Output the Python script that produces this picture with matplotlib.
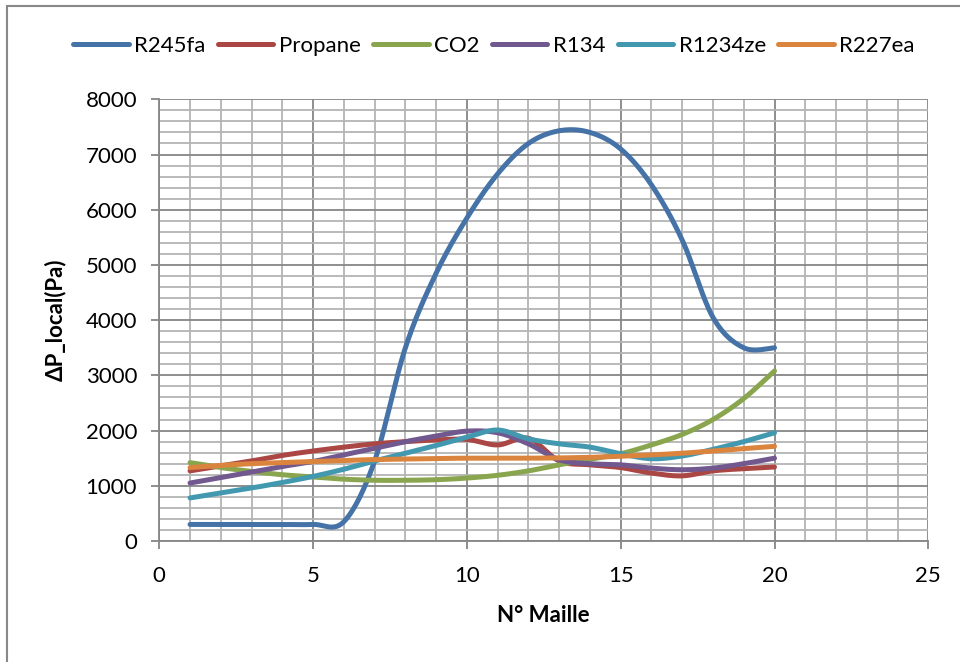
import numpy as np
import matplotlib
matplotlib.use("Agg")
import matplotlib.pyplot as plt
from matplotlib.patches import Rectangle
from matplotlib.ticker import MultipleLocator

plt.rcParams['font.family'] = ['Lato', 'DejaVu Sans']

# N° Maille 1..20
maille = list(range(1, 21))

r245fa = [300, 300, 300, 300, 300, 350, 1450, 3500, 4850, 5850,
          6650, 7200, 7430, 7400, 7100, 6450, 5450, 4050, 3500, 3500]
propane = [1270, 1360, 1450, 1550, 1630, 1700, 1760, 1800, 1830, 1840,
           1740, 1860, 1450, 1380, 1330, 1230, 1180, 1270, 1310, 1340]
co2 = [1420, 1330, 1260, 1200, 1160, 1120, 1100, 1100, 1110, 1140,
       1190, 1270, 1380, 1480, 1580, 1740, 1930, 2200, 2580, 3080]
r134 = [1050, 1150, 1250, 1350, 1440, 1560, 1680, 1800, 1900, 1990,
        1960, 1760, 1470, 1400, 1380, 1320, 1290, 1320, 1400, 1500]
r1234ze = [780, 870, 960, 1060, 1170, 1300, 1450, 1590, 1730, 1880,
           2010, 1850, 1760, 1700, 1580, 1490, 1540, 1660, 1800, 1960]
r227ea = [1330, 1370, 1400, 1420, 1440, 1460, 1475, 1485, 1495, 1500,
          1500, 1500, 1505, 1515, 1535, 1560, 1590, 1630, 1670, 1715]

series = [('R245fa', r245fa, '#4572A7'),
          ('Propane', propane, '#AA4643'),
          ('CO2', co2, '#89A54E'),
          ('R134', r134, '#71588F'),
          ('R1234ze', r1234ze, '#4198AF'),
          ('R227ea', r227ea, '#DB843D')]


def smooth(x, y, n=30):
    # Catmull-Rom through the points, like Excel's "smoothed line"
    x = np.asarray(x, float)
    y = np.asarray(y, float)
    px = np.concatenate([[x[0]], x, [x[-1]]])
    py = np.concatenate([[y[0]], y, [y[-1]]])
    xs, ys = [], []
    t = np.linspace(0, 1, n, endpoint=False)
    for i in range(1, len(px) - 2):
        for p, out in ((px, xs), (py, ys)):
            p0, p1, p2, p3 = p[i - 1], p[i], p[i + 1], p[i + 2]
            m1 = (p2 - p0) / 2
            m2 = (p3 - p1) / 2
            h00 = 2 * t**3 - 3 * t**2 + 1
            h10 = t**3 - 2 * t**2 + t
            h01 = -2 * t**3 + 3 * t**2
            h11 = t**3 - t**2
            out.append(h00 * p1 + h10 * m1 + h01 * p2 + h11 * m2)
    xs = np.concatenate(xs + [[x[-1]]])
    ys = np.concatenate(ys + [[y[-1]]])
    return xs, ys


W, H = 960, 662
fig = plt.figure(figsize=(W / 100, H / 100), dpi=100)

# outer chart frame (right and bottom edges fall outside the picture)
fig.patches.append(Rectangle((7 / W, -0.1), 1.2, (H - 6) / H + 0.1, transform=fig.transFigure,
                             fill=False, edgecolor='#888888', linewidth=1.5))

x0, x1 = 159.3, 928.3
y0, y1 = 541, 99.3
ax = fig.add_axes([x0 / W, (H - y0) / H, (x1 - x0) / W, (y0 - y1) / H])

for name, vals, col in series:
    sx, sy = smooth(maille, vals)
    ax.plot(sx, sy, color=col, lw=3.6, solid_capstyle='round', label=name, zorder=3)

ax.set_xlim(0, 25)
ax.set_ylim(0, 8000)
ax.xaxis.set_major_locator(MultipleLocator(5))
ax.xaxis.set_minor_locator(MultipleLocator(1))
ax.yaxis.set_major_locator(MultipleLocator(1000))
ax.yaxis.set_minor_locator(MultipleLocator(200))
ax.grid(which='minor', color='#b4b4b4', lw=1.3, zorder=0)
ax.grid(which='major', color='#868686', lw=1.3, zorder=1)
ax.set_axisbelow(True)

for s in ['top', 'right']:
    ax.spines[s].set_visible(False)
for s in ['left', 'bottom']:
    ax.spines[s].set_color('#868686')
    ax.spines[s].set_linewidth(1.3)
ax.tick_params(which='major', length=6, width=1.3, color='#868686', labelsize=16)
ax.tick_params(axis='x', which='major', pad=12)
ax.tick_params(axis='y', which='major', pad=10)
ax.tick_params(which='minor', length=0)

ax.set_xlabel('N° Maille', fontsize=16, fontweight='bold', labelpad=14)
ax.set_ylabel('ΔP_local(Pa)', fontsize=16, fontweight='bold', labelpad=14)

fig.legend(loc='center', bbox_to_anchor=(494 / W, 1 - 46 / H), ncol=6, frameon=False,
           fontsize=16, handlelength=2.5, handletextpad=0.25, columnspacing=0.55)

fig.savefig('out.png', dpi=100)
